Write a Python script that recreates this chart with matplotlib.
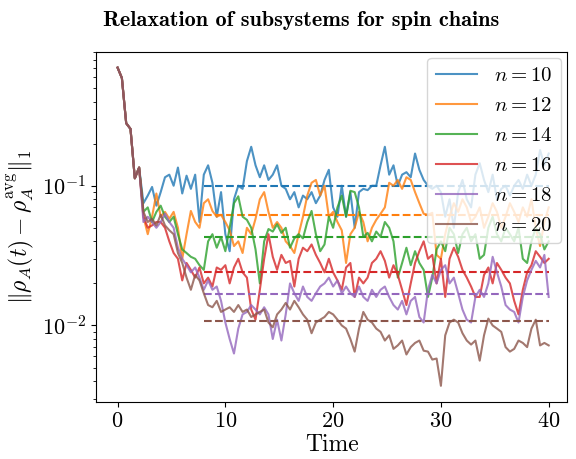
import numpy as np
import matplotlib
matplotlib.use("Agg")
import matplotlib.pyplot as plt

plt.rcParams["font.family"] = "serif"
plt.rcParams["font.serif"] = ["cmr10"]
plt.rcParams["mathtext.fontset"] = "cm"
plt.rcParams["axes.formatter.use_mathtext"] = True
plt.rcParams["font.size"] = 17
plt.rcParams["xtick.labelsize"] = 16
plt.rcParams["ytick.labelsize"] = 16

# time grid of the read-off samples
t = np.arange(101) * 0.4

sizes = [10, 12, 14, 16, 18, 20]

n10 = [0.70, 0.59, 0.28, 0.255, 0.113, 0.135,
       0.075, 0.085, 0.098, 0.072, 0.09, 0.115, 0.12, 0.10, 0.135, 0.088,
       0.118, 0.095, 0.12, 0.055, 0.12, 0.14, 0.105, 0.06, 0.09, 0.045,
       0.034, 0.08, 0.10, 0.095, 0.15, 0.19, 0.14, 0.115, 0.14, 0.11,
       0.12, 0.14, 0.10, 0.095, 0.08, 0.09, 0.07, 0.085, 0.08, 0.09,
       0.075, 0.085, 0.11, 0.13, 0.07, 0.06, 0.10, 0.06, 0.09, 0.05,
       0.09, 0.095, 0.093, 0.10, 0.10, 0.14, 0.19, 0.12, 0.14, 0.10,
       0.12, 0.125, 0.115, 0.17, 0.13, 0.11, 0.10, 0.095, 0.10, 0.09,
       0.06, 0.08, 0.05, 0.09, 0.11, 0.08, 0.07, 0.12, 0.145, 0.11,
       0.09, 0.12, 0.08, 0.095, 0.10, 0.085, 0.10, 0.11, 0.095, 0.12,
       0.10, 0.12, 0.18, 0.14, 0.17]

n12 = [0.70, 0.59, 0.28, 0.255, 0.113, 0.135,
       0.06, 0.045, 0.06, 0.088, 0.06, 0.065, 0.058, 0.065, 0.05, 0.03,
       0.045, 0.066, 0.055, 0.05, 0.075, 0.08, 0.066, 0.06, 0.062, 0.055,
       0.048, 0.037, 0.04, 0.033, 0.05, 0.045, 0.058, 0.08, 0.09, 0.065,
       0.05, 0.055, 0.05, 0.04, 0.037, 0.033, 0.045, 0.06, 0.085, 0.105,
       0.11, 0.085, 0.10, 0.06, 0.065, 0.055, 0.048, 0.028, 0.045, 0.05,
       0.065, 0.055, 0.04, 0.05, 0.057, 0.063, 0.07, 0.105, 0.10, 0.11,
       0.095, 0.115, 0.11, 0.09, 0.075, 0.063, 0.062, 0.064, 0.032, 0.03,
       0.045, 0.06, 0.075, 0.065, 0.08, 0.07, 0.055, 0.06, 0.07, 0.05,
       0.06, 0.075, 0.065, 0.05, 0.06, 0.075, 0.065, 0.055, 0.07, 0.06,
       0.08, 0.05, 0.037, 0.055, 0.07]

n14 = [0.70, 0.59, 0.28, 0.255, 0.113, 0.135,
       0.065, 0.07, 0.055, 0.065, 0.072, 0.06, 0.055, 0.06, 0.045, 0.035,
       0.033, 0.031, 0.03, 0.027, 0.025, 0.04, 0.045, 0.036, 0.043, 0.034,
       0.05, 0.075, 0.084, 0.06, 0.057, 0.05, 0.035, 0.02, 0.04, 0.049,
       0.047, 0.053, 0.046, 0.05, 0.036, 0.042, 0.045, 0.042, 0.055, 0.066,
       0.045, 0.034, 0.038, 0.06, 0.05, 0.07, 0.085, 0.06, 0.092, 0.09,
       0.07, 0.043, 0.046, 0.04, 0.047, 0.043, 0.055, 0.05, 0.04, 0.022,
       0.028, 0.036, 0.027, 0.034, 0.028, 0.025, 0.016, 0.022, 0.035, 0.04,
       0.034, 0.05, 0.045, 0.033, 0.045, 0.05, 0.04, 0.045, 0.03, 0.032,
       0.05, 0.06, 0.045, 0.04, 0.05, 0.045, 0.04, 0.05, 0.03, 0.028,
       0.04, 0.05, 0.045, 0.035, 0.04]

n16 = [0.70, 0.59, 0.28, 0.255, 0.113, 0.135,
       0.06, 0.05, 0.052, 0.055, 0.055, 0.05, 0.04, 0.033, 0.03, 0.021,
       0.028, 0.025, 0.022, 0.026, 0.02, 0.022, 0.019, 0.026, 0.025, 0.027,
       0.02, 0.026, 0.03, 0.024, 0.022, 0.013, 0.011, 0.018, 0.03, 0.045,
       0.031, 0.025, 0.032, 0.028, 0.029, 0.019, 0.03, 0.036, 0.034, 0.038,
       0.032, 0.028, 0.024, 0.03, 0.024, 0.021, 0.018, 0.026, 0.028, 0.016,
       0.022, 0.02, 0.022, 0.028, 0.03, 0.034, 0.029, 0.022, 0.027, 0.023,
       0.018, 0.014, 0.02, 0.028, 0.034, 0.04, 0.03, 0.032, 0.02, 0.03,
       0.016, 0.03, 0.036, 0.031, 0.025, 0.022, 0.019, 0.016, 0.016, 0.023,
       0.026, 0.02, 0.028, 0.025, 0.022, 0.02, 0.015, 0.012, 0.018, 0.024,
       0.027, 0.034, 0.031, 0.028, 0.03]

n18 = [0.70, 0.59, 0.28, 0.255, 0.113, 0.135,
       0.055, 0.06, 0.055, 0.05, 0.055, 0.063, 0.055, 0.05, 0.036, 0.03,
       0.027, 0.024, 0.026, 0.022, 0.018, 0.021, 0.018, 0.019, 0.015, 0.0105,
       0.008, 0.0063, 0.0095, 0.012, 0.0125, 0.014, 0.013, 0.012, 0.0135, 0.012,
       0.008, 0.011, 0.0078, 0.012, 0.02, 0.017, 0.015, 0.019, 0.016, 0.015,
       0.017, 0.019, 0.02, 0.022, 0.019, 0.021, 0.017, 0.019, 0.017, 0.016,
       0.019, 0.016, 0.015, 0.018, 0.016, 0.018, 0.019, 0.016, 0.014, 0.013,
       0.015, 0.012, 0.015, 0.016, 0.0115, 0.0105, 0.018, 0.023, 0.02, 0.025,
       0.027, 0.02, 0.022, 0.017, 0.013, 0.011, 0.0105, 0.016, 0.018, 0.016,
       0.02, 0.031, 0.024, 0.019, 0.014, 0.013, 0.0125, 0.0105, 0.016, 0.021,
       0.025, 0.029, 0.026, 0.032, 0.016]

n20 = [0.70, 0.59, 0.28, 0.255, 0.113, 0.135,
       0.065, 0.055, 0.058, 0.052, 0.062, 0.052, 0.048, 0.045, 0.033, 0.028,
       0.022, 0.018, 0.023, 0.021, 0.017, 0.014, 0.0135, 0.015, 0.0125, 0.013,
       0.0135, 0.0125, 0.014, 0.0125, 0.013, 0.0115, 0.012, 0.0125, 0.013, 0.0105,
       0.0097, 0.012, 0.013, 0.0145, 0.013, 0.015, 0.0135, 0.012, 0.011, 0.0088,
       0.0105, 0.011, 0.0115, 0.0125, 0.012, 0.011, 0.01, 0.0095, 0.008, 0.0065,
       0.0095, 0.0125, 0.011, 0.0105, 0.0095, 0.009, 0.0078, 0.0085, 0.0068, 0.0072,
       0.0078, 0.0062, 0.007, 0.0075, 0.0078, 0.0066, 0.0065, 0.0057, 0.0058, 0.0037,
       0.0085, 0.0105, 0.011, 0.0105, 0.0088, 0.0078, 0.0073, 0.0078, 0.0056, 0.0085,
       0.0112, 0.01, 0.0095, 0.009, 0.007, 0.0065, 0.0068, 0.0078, 0.0075, 0.007,
       0.0095, 0.011, 0.0072, 0.0075, 0.0072]

# long-time averages, drawn from t_avg_start on
averages = [0.099, 0.062, 0.043, 0.0243, 0.0169, 0.0107]
t_avg_start = 8.0
t_end = 40.0

series = [n10, n12, n14, n16, n18, n20]
colors = ["tab:blue", "tab:orange", "tab:green", "tab:red", "tab:purple", "tab:brown"]

fig = plt.figure(figsize=(5.76, 4.59), dpi=100)
ax = fig.add_axes([0.1667, 0.1248, 0.8177, 0.7625])

for n, y, avg, c in zip(sizes, series, averages, colors):
    ax.plot(t, y, color=c, alpha=0.8, lw=1.5, label=rf"$n{{=}}{n}$")
    ax.plot([t_avg_start, t_end], [avg, avg], color=c, ls="--", lw=1.5)

ax.set_yscale("log")
ax.set_xlim(-2.0, 41.7)
ax.set_xticks([0, 10, 20, 30, 40])
ax.set_xlabel("Time", labelpad=2)
ax.set_ylabel(r"$\|\rho_A(t)-\rho_A^{\rm avg}\|_1$")
fig.text(0.523, 1 - 20 / 459, "Relaxation of subsystems for spin chains",
         fontfamily="cmb10", fontsize=16, ha="center", va="center")
ax.legend(loc="upper right", fontsize=15, borderaxespad=0.3, labelspacing=0.55)

fig.savefig("out.png", dpi=100)
